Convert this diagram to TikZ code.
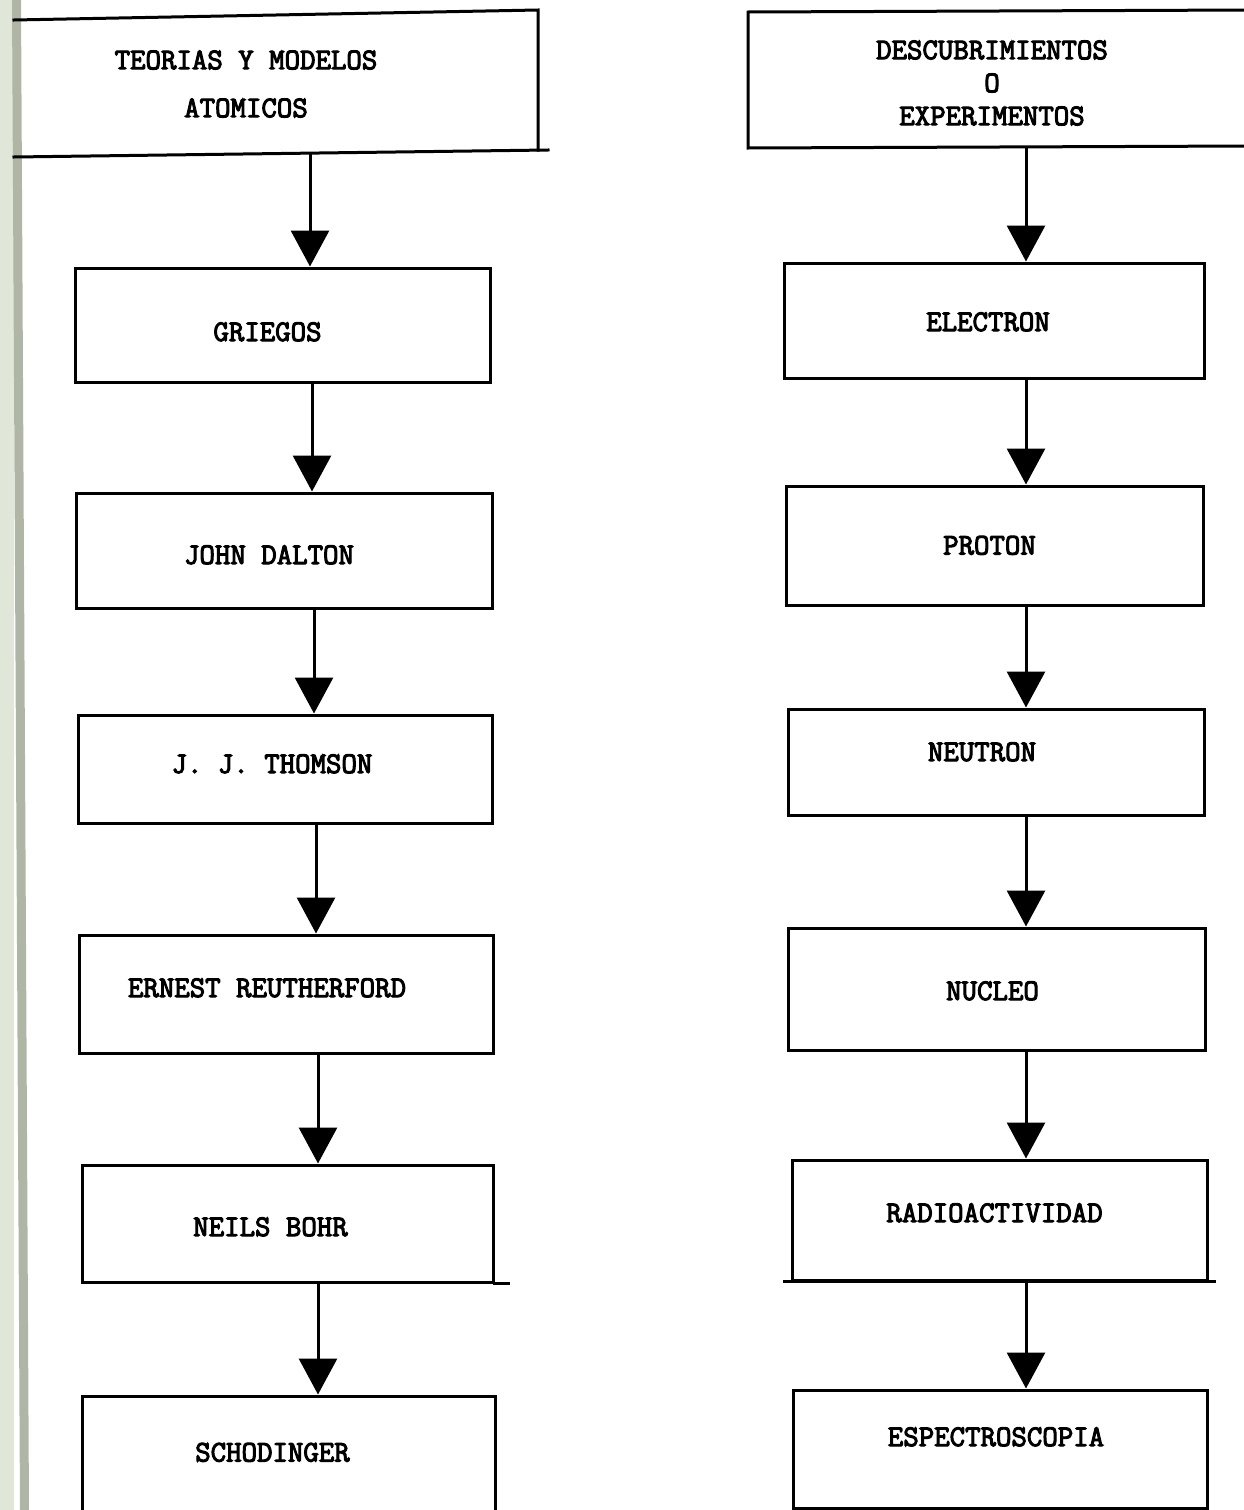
\documentclass[tikz,border=0pt]{standalone}
\usepackage{fontspec}
\newfontfamily\tw{Latin Modern Mono}[FakeBold=3.5]
\usetikzlibrary{arrows.meta}
\newcommand{\off}[3]{\raisebox{#2pt}[0pt][0pt]{\makebox[0pt]{\hspace*{#1pt}\hspace*{#1pt}#3}}}
\begin{document}
\begin{tikzpicture}[x=1pt,y=-1pt,
  line width=3pt, line cap=rect,
  txt/.style={font=\tw\fontsize{30}{33}\selectfont, align=center, inner sep=0pt},
  box/.style={draw, rectangle, inner sep=0pt, font=\tw\fontsize{30}{33}\selectfont},
  arr/.style={-{Triangle[width=38pt,length=36pt]}, line width=3pt, line cap=butt}]
\useasboundingbox (0,0) rectangle (1244,1510);
% binding strip
\fill[fill={rgb,255:red,224;green,230;blue,216}] (0,0) rectangle (14,1510);
\fill[fill={rgb,255:red,176;green,182;blue,166}] (12,0) -- (21,0) -- (29,1510) -- (20,1510) -- cycle;
% left column
\node[txt] (teorias) at (246,84) {TEORIAS Y MODELOS\\[15pt]ATOMICOS};
\draw (14,20) -- (538,10) -- (538,150);
\draw (14,157) -- (548,150);
\coordinate (tl) at (310,152);
\node[box, minimum width=415pt, minimum height=114pt] (griegos) at (282.5,325) {\off{-15}{-16}{GRIEGOS}};
\node[box, minimum width=416pt, minimum height=115pt] (dalton) at (284,550.5) {\off{-15}{-13.5}{JOHN DALTON}};
\node[box, minimum width=414pt, minimum height=108pt] (thomson) at (285,769) {\off{-13}{-4}{J. J. THOMSON}};
\node[box, minimum width=414pt, minimum height=118pt] (ernest) at (286,994) {\off{-19}{-3}{ERNEST REUTHERFORD}};
\node[box, minimum width=411pt, minimum height=117pt] (bohr) at (287.5,1223.5) {\off{-17}{-12.5}{NEILS BOHR}};
\draw (bohr.south east) -- ++(14,0);
\node[box, minimum width=413pt, minimum height=118pt] (schod) at (288.5,1455) {\off{-16}{-6.5}{SCHODINGER}};
\coordinate (cl) at (314,0);
\draw[arr] (tl) -- (griegos.north -| tl);
\draw[arr] ([xshift=-2pt]griegos.south -| cl) -- ([xshift=-2pt]dalton.north -| cl);
\draw[arr] (dalton.south -| cl) -- (thomson.north -| cl);
\draw[arr] ([xshift=2pt]thomson.south -| cl) -- ([xshift=2pt]ernest.north -| cl);
\draw[arr] ([xshift=4pt]ernest.south -| cl) -- ([xshift=4pt]bohr.north -| cl);
\draw[arr] ([xshift=4pt]bohr.south -| cl) -- ([xshift=4pt]schod.north -| cl);
% right column
\node[txt] (descub) at (992,83) {DESCUBRIMIENTOS\\O\\EXPERIMENTOS};
\draw (1250,10) -- (748,12) -- (748,148) -- (1250,146);
\coordinate (tr) at (1026,148);
\node[box, minimum width=420pt, minimum height=115pt] (electron) at (994,320.5) {\off{-6}{-10.5}{ELECTRON}};
\node[box, minimum width=417pt, minimum height=119pt] (proton) at (994.5,545.5) {\off{-5}{-9}{PROTON}};
\node[box, minimum width=416pt, minimum height=106pt] (neutron) at (996,762) {\off{-14}{1}{NEUTRON}};
\node[box, minimum width=417pt, minimum height=122pt] (nucleo) at (996.5,989) {\off{-4}{-11}{NUCLEO}};
\node[box, minimum width=415pt, minimum height=120pt] (radio) at (999.5,1220) {\off{-5}{-2}{RADIOACTIVIDAD}};
\draw ([xshift=-6pt]radio.south west) -- ([xshift=6pt]radio.south east);
\node[box, minimum width=414pt, minimum height=118pt] (espect) at (1000,1449) {\off{-4}{3}{ESPECTROSCOPIA}};
\draw[arr] (tr) -- (electron.north -| tr);
\draw[arr] (electron.south -| tr) -- (proton.north -| tr);
\draw[arr] (proton.south -| tr) -- (neutron.north -| tr);
\draw[arr] (neutron.south -| tr) -- (nucleo.north -| tr);
\draw[arr] (nucleo.south -| tr) -- (radio.north -| tr);
\draw[arr] (radio.south -| tr) -- (espect.north -| tr);
\end{tikzpicture}
\end{document}
